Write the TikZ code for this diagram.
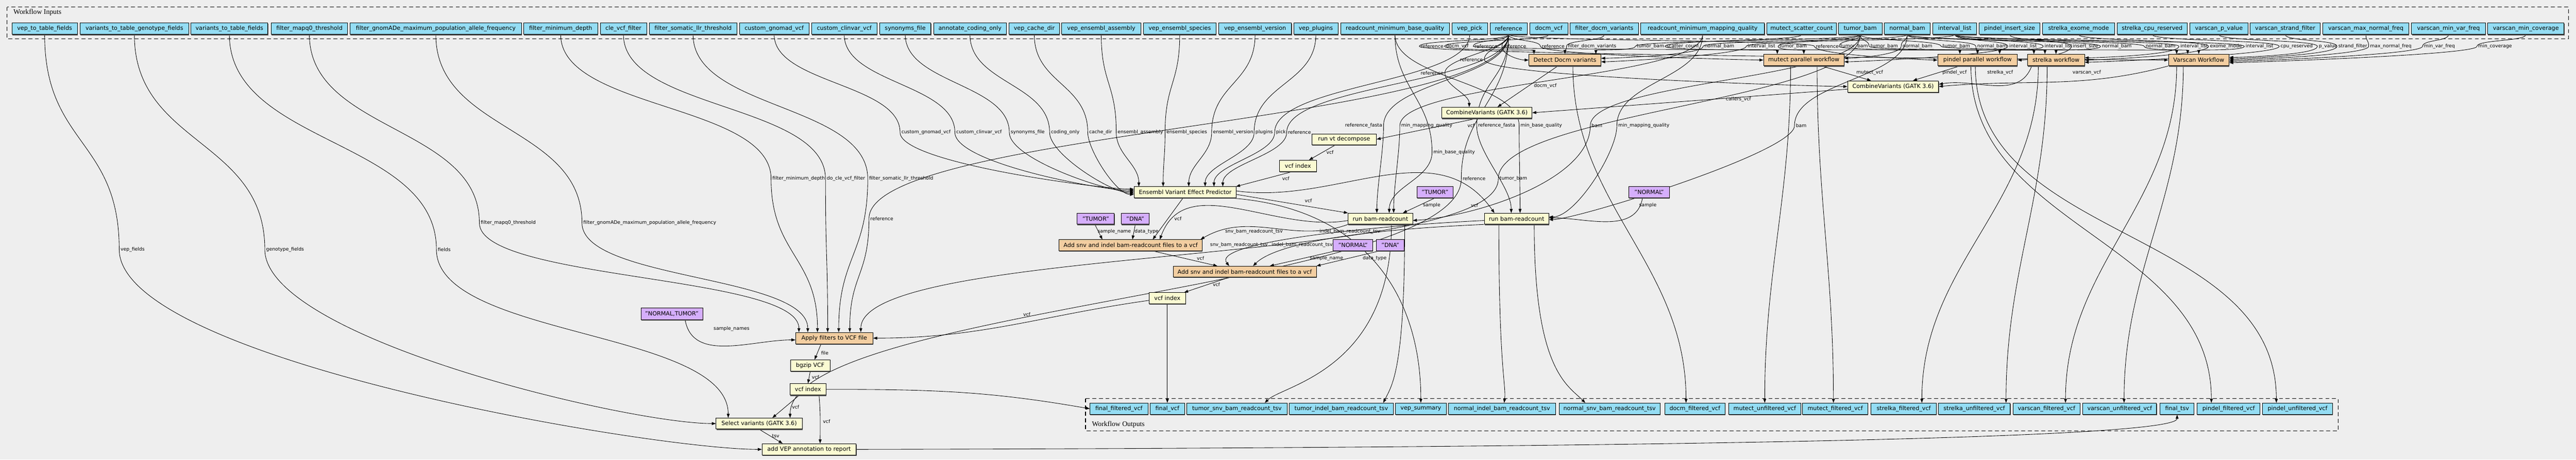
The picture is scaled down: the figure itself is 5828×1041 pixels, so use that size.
\documentclass[tikz,border=0pt]{standalone}
\usepackage{fontspec}
\setmainfont{DejaVu Sans}
\newfontfamily\wfserif{Liberation Serif}
\usetikzlibrary{arrows.meta,shadows}
\definecolor{bgc}{HTML}{EEEEEE}
\definecolor{inblue}{HTML}{94DDF4}
\definecolor{wforange}{HTML}{F3CEA1}
\definecolor{toolyellow}{HTML}{FAFAD2}
\definecolor{constpurple}{HTML}{D5AEFC}
\pgfdeclarelayer{bg}
\pgfdeclarelayer{edges}
\pgfsetlayers{bg,edges,main}
\newcommand\wbox[7]{\node[#1, minimum width={(#4)-(#3)}, minimum height={(#6)-(#5)}] (#2) at ({((#3)+(#4))/2},{1041-((#5)+(#6))/2}) {#7};}
\newcommand\elab[4]{\node[lab] (#1) at (#2,{1041-(#3)}) {#4};}
\newcommand\edgevia[6]{\draw[e] (#1) .. controls +(0,-#5) and +(0,#5) .. ([xshift=-3pt]#2.west) .. controls +(0,-#6) and +(#4:#6) .. (#3);}
\newcommand\edgeviaE[6]{\draw[e] (#1) .. controls +(0,-#5) and +(0,#5) .. ([xshift=3pt]#2.east) .. controls +(0,-#6) and +(#4:#6) .. (#3);}
\begin{document}
\begin{tikzpicture}[x=1pt,y=1pt,
 base/.style={rectangle, draw=black, line width=1pt, inner sep=0pt, font=\fontsize{13}{15}\selectfont, drop shadow={shadow xshift=0.8pt, shadow yshift=-2pt, fill=black!65, opacity=1}},
 io/.style={base, fill=inblue},
 wf/.style={base, fill=wforange},
 tool/.style={base, fill=toolyellow},
 cst/.style={base, fill=constpurple},
 lab/.style={font=\fontsize{10.8}{12}\selectfont, inner sep=0pt},
 e/.style={line width=1pt, -{Triangle[length=9pt,width=6.5pt]}},
 cluster/.style={draw=black, line width=1.5pt, dash pattern=on 9pt off 6pt}]
\begin{pgfonlayer}{bg}
\fill[bgc] (0,0) rectangle (5828,1041);
\draw[cluster] (16,1025) rectangle (5811,953);
\draw[cluster] (2456,138) rectangle (5290,65);
\end{pgfonlayer}
\useasboundingbox (0,0) rectangle (5828,1041);
\node[anchor=west, font=\wfserif\fontsize{16}{18}\selectfont] (tin) at (27,1013) {Workflow Inputs};
\node[anchor=west, font=\wfserif\fontsize{16}{18}\selectfont] (tout) at (2467,79) {Workflow Outputs};
% inputs
\wbox{io}{i_veptab}{27}{175}{52}{78}{vep\_to\_table\_fields}
\wbox{io}{i_vtgf}{181}{427}{52}{78}{variants\_to\_table\_genotype\_fields}
\wbox{io}{i_vtf}{432}{606}{52}{78}{variants\_to\_table\_fields}
\wbox{io}{i_mapq0}{614}{786}{52}{78}{filter\_mapq0\_threshold}
\wbox{io}{i_gnomade}{792}{1180}{52}{78}{filter\_gnomADe\_maximum\_population\_allele\_frequency}
\wbox{io}{i_mindepth}{1185}{1352}{52}{78}{filter\_minimum\_depth}
\wbox{io}{i_cle}{1358}{1463}{52}{78}{cle\_vcf\_filter}
\wbox{io}{i_llr}{1469}{1667}{52}{78}{filter\_somatic\_llr\_threshold}
\wbox{io}{i_cgnomad}{1673}{1830}{52}{78}{custom\_gnomad\_vcf}
\wbox{io}{i_cclinvar}{1836}{1984}{52}{78}{custom\_clinvar\_vcf}
\wbox{io}{i_syn}{1990}{2106}{52}{78}{synonyms\_file}
\wbox{io}{i_coding}{2112}{2277}{52}{78}{annotate\_coding\_only}
\wbox{io}{i_cache}{2283}{2397}{52}{78}{vep\_cache\_dir}
\wbox{io}{i_assembly}{2402}{2581}{52}{78}{vep\_ensembl\_assembly}
\wbox{io}{i_species}{2587}{2751}{52}{78}{vep\_ensembl\_species}
\wbox{io}{i_version}{2757}{2922}{52}{78}{vep\_ensembl\_version}
\wbox{io}{i_plugins}{2927}{3027}{52}{78}{vep\_plugins}
\wbox{io}{i_rbq}{3033}{3279}{52}{78}{readcount\_minimum\_base\_quality}
\wbox{io}{i_pick}{3285}{3365}{52}{78}{vep\_pick}
\wbox{io}{i_ref}{3371}{3455}{52}{78}{reference}
\wbox{io}{i_docm}{3461}{3547}{52}{78}{docm\_vcf}
\wbox{io}{i_fdocm}{3552}{3707}{52}{78}{filter\_docm\_variants}
\wbox{io}{i_rmq}{3712}{3992}{52}{78}{readcount\_minimum\_mapping\_quality}
\wbox{io}{i_mscatter}{3997}{4155}{52}{78}{mutect\_scatter\_count}
\wbox{io}{i_tumor}{4159}{4258}{52}{78}{tumor\_bam}
\wbox{io}{i_normal}{4263}{4367}{52}{78}{normal\_bam}
\wbox{io}{i_interval}{4373}{4472}{52}{78}{interval\_list}
\wbox{io}{i_pinsert}{4478}{4615}{52}{78}{pindel\_insert\_size}
\wbox{io}{i_sexome}{4621}{4784}{52}{78}{strelka\_exome\_mode}
\wbox{io}{i_scpu}{4790}{4948}{52}{78}{strelka\_cpu\_reserved}
\wbox{io}{i_vp}{4954}{5086}{52}{78}{varscan\_p\_value}
\wbox{io}{i_vsf}{5091}{5249}{52}{78}{varscan\_strand\_filter}
\wbox{io}{i_vmnf}{5255}{5450}{52}{78}{varscan\_max\_normal\_freq}
\wbox{io}{i_vmvf}{5456}{5623}{52}{78}{varscan\_min\_var\_freq}
\wbox{io}{i_vmc}{5628}{5801}{52}{78}{varscan\_min\_coverage}
% outputs
\wbox{io}{o_ff}{2466}{2597}{913}{939}{final\_filtered\_vcf}
\wbox{io}{o_fvcf}{2602}{2680}{913}{939}{final\_vcf}
\wbox{io}{o_tsnv}{2685}{2912}{913}{939}{tumor\_snv\_bam\_readcount\_tsv}
\wbox{io}{o_tindel}{2917}{3152}{913}{939}{tumor\_indel\_bam\_readcount\_tsv}
\wbox{io}{o_vepsum}{3157}{3272}{913}{939}{vep\_summary}
\wbox{io}{o_nindel}{3277}{3519}{913}{939}{normal\_indel\_bam\_readcount\_tsv}
\wbox{io}{o_nsnv}{3527}{3756}{913}{939}{normal\_snv\_bam\_readcount\_tsv}
\wbox{io}{o_docm}{3766}{3903}{913}{939}{docm\_filtered\_vcf}
\wbox{io}{o_munf}{3911}{4074}{913}{939}{mutect\_unfiltered\_vcf}
\wbox{io}{o_mfilt}{4078}{4226}{913}{939}{mutect\_filtered\_vcf}
\wbox{io}{o_sfilt}{4233}{4381}{913}{939}{strelka\_filtered\_vcf}
\wbox{io}{o_sunf}{4385}{4548}{913}{939}{strelka\_unfiltered\_vcf}
\wbox{io}{o_vfilt}{4554}{4706}{913}{939}{varscan\_filtered\_vcf}
\wbox{io}{o_vunf}{4712}{4879}{913}{939}{varscan\_unfiltered\_vcf}
\wbox{io}{o_ftsv}{4887}{4964}{913}{939}{final\_tsv}
\wbox{io}{o_pfilt}{4971}{5113}{913}{939}{pindel\_filtered\_vcf}
\wbox{io}{o_punf}{5119}{5277}{913}{939}{pindel\_unfiltered\_vcf}
% steps
\wbox{wf}{s_docm}{3459}{3622}{123}{149}{Detect Docm variants}
\wbox{wf}{s_mutect}{3990}{4172}{123}{149}{mutect parallel workflow}
\wbox{wf}{s_pindel}{4384}{4564}{123}{149}{pindel parallel workflow}
\wbox{wf}{s_strelka}{4587}{4716}{123}{149}{strelka workflow}
\wbox{wf}{s_varscan}{4906}{5043}{123}{149}{Varscan Workflow}
\wbox{tool}{s_combR}{4180}{4386}{183}{209}{CombineVariants (GATK 3.6)}
\wbox{tool}{s_combL}{3262}{3466}{243}{268}{CombineVariants (GATK 3.6)}
\wbox{tool}{s_vt}{2968}{3114}{303}{328}{run vt decompose}
\wbox{tool}{s_vi1}{2895}{2978}{363}{389}{vcf index}
\wbox{tool}{s_vep}{2566}{2797}{423}{448}{Ensembl Variant Effect Predictor}
\wbox{cst}{c_t1}{3206}{3287}{423}{448}{"TUMOR"}
\wbox{cst}{c_n1}{3685}{3777}{423}{448}{"NORMAL"}
\wbox{tool}{s_brcL}{3050}{3196}{483}{508}{run bam-readcount}
\wbox{tool}{s_brcR}{3358}{3504}{483}{508}{run bam-readcount}
\wbox{cst}{c_t2}{2437}{2521}{483}{508}{"TUMOR"}
\wbox{cst}{c_d1}{2537}{2600}{483}{508}{"DNA"}
\wbox{wf}{s_add1}{2396}{2720}{543}{568}{Add snv and indel bam-readcount files to a vcf}
\wbox{cst}{c_n2}{3016}{3106}{543}{568}{"NORMAL"}
\wbox{cst}{c_d2}{3114}{3177}{543}{568}{"DNA"}
\wbox{wf}{s_add2}{2654}{2978}{603}{628}{Add snv and indel bam-readcount files to a vcf}
\wbox{tool}{s_vi2}{2600}{2682}{663}{688}{vcf index}
\wbox{cst}{c_nt}{1450}{1590}{698}{724}{"NORMAL,TUMOR"}
\wbox{wf}{s_filter}{1800}{1975}{753}{779}{Apply filters to VCF file}
\wbox{tool}{s_bgzip}{1788}{1878}{815}{841}{bgzip VCF}
\wbox{tool}{s_vi3}{1787}{1869}{869}{895}{vcf index}
\wbox{tool}{s_select}{1620}{1815}{947}{972}{Select variants (GATK 3.6)}
\wbox{tool}{s_addvep}{1724}{1937}{1005}{1031}{add VEP annotation to report}
% labels row
\elab{la1}{3240}{105}{reference}
\elab{la2}{3297}{105}{docm\_vcf}
\elab{la3}{3362}{105}{reference}
\elab{la4}{3427}{105}{reference}
\elab{la5}{3514}{105}{reference}
\elab{la6}{3602}{105}{filter\_docm\_variants}
\elab{la7}{3734}{105}{tumor\_bam}
\elab{la8}{3807}{105}{scatter\_count}
\elab{la9}{3890}{105}{normal\_bam}
\elab{la10}{3985}{105}{interval\_list}
\elab{la11}{4057}{105}{tumor\_bam}
\elab{la12}{4134}{105}{reference}
\elab{la13}{4195}{105}{tumor\_bam}
\elab{la14}{4263}{105}{tumor\_bam}
\elab{la15}{4338}{105}{normal\_bam}
\elab{la16}{4426}{105}{tumor\_bam}
\elab{la17}{4507}{105}{normal\_bam}
\elab{la18}{4577}{105}{interval\_list}
\elab{la19}{4657}{105}{interval\_list}
\elab{la20}{4718}{105}{insert\_size}
\elab{la21}{4789}{105}{normal\_bam}
\elab{la22}{4888}{105}{normal\_bam}
\elab{la23}{4964}{105}{interval\_list}
\elab{la24}{5036}{105}{exome\_mode}
\elab{la25}{5112}{105}{interval\_list}
\elab{la26}{5196}{105}{cpu\_reserved}
\elab{la27}{5267}{105}{p\_value}
\elab{la28}{5323}{105}{strand\_filter}
\elab{la29}{5409}{105}{max\_normal\_freq}
\elab{la30}{5519}{105}{min\_var\_freq}
\elab{la31}{5645}{105}{min\_coverage}
% other labels
\elab{lb1}{3329}{135}{reference}
\elab{lb2}{3240}{165}{reference}
\elab{lb3}{3496}{195}{docm\_vcf}
\elab{lb4}{4230}{165}{mutect\_vcf}
\elab{lb5}{4422}{165}{pindel\_vcf}
\elab{lb6}{4525}{165}{strelka\_vcf}
\elab{lb7}{4721}{165}{varscan\_vcf}
\elab{lb8}{3933}{225}{callers\_vcf}
\elab{lb9}{3328}{285}{vcf}
\elab{lb10}{3009}{345}{vcf}
\elab{lb11}{2909}{405}{vcf}
\elab{lv1}{2095}{300}{custom\_gnomad\_vcf}
\elab{lv2}{2215}{300}{custom\_clinvar\_vcf}
\elab{lv3}{2325}{300}{synonyms\_file}
\elab{lv4}{2410}{300}{coding\_only}
\elab{lv5}{2490}{300}{cache\_dir}
\elab{lv6}{2580}{300}{ensembl\_assembly}
\elab{lv7}{2685}{300}{ensembl\_species}
\elab{lv8}{2790}{300}{ensembl\_version}
\elab{lv9}{2860}{300}{plugins}
\elab{lv10}{2898}{300}{pick}
\elab{lv11}{2940}{300}{reference}
\elab{lr1}{3290}{345}{min\_base\_quality}
\elab{lr2}{3085}{285}{reference\_fasta}
\elab{lr3}{3228}{285}{min\_mapping\_quality}
\elab{lr4}{3386}{285}{reference\_fasta}
\elab{lr5}{3487}{285}{min\_base\_quality}
\elab{lr6}{3719}{285}{min\_mapping\_quality}
\elab{lr7}{3613}{285}{bam}
\elab{lr8}{4075}{285}{bam}
\elab{lc1}{3239}{465}{sample}
\elab{lc2}{2960}{455}{vcf}
\elab{lc3}{3336}{465}{vcf}
\elab{lc4}{3728}{465}{sample}
\elab{lc5}{2665}{495}{vcf}
\elab{lc6}{2521}{525}{sample\_name}
\elab{lc7}{2594}{525}{data\_type}
\elab{lc8}{2837}{525}{snv\_bam\_readcount\_tsv}
\elab{lc9}{3054}{525}{indel\_bam\_readcount\_tsv}
\elab{lc10}{2803}{555}{snv\_bam\_readcount\_tsv}
\elab{lc11}{2946}{555}{indel\_bam\_readcount\_tsv}
\elab{lc12}{2716}{585}{vcf}
\elab{lc13}{3001}{585}{sample\_name}
\elab{lc14}{3110}{585}{data\_type}
\elab{lc15}{2752}{645}{vcf}
\elab{lf1}{1150}{505}{filter\_mapq0\_threshold}
\elab{lf2}{1470}{505}{filter\_gnomADe\_maximum\_population\_allele\_frequency}
\elab{lf3}{1807}{405}{filter\_minimum\_depth}
\elab{lf4}{1914}{405}{do\_cle\_vcf\_filter}
\elab{lf5}{2039}{405}{filter\_somatic\_llr\_threshold}
\elab{lf6}{1995}{495}{reference}
\elab{lf7}{3424}{405}{tumor\_bam}
\elab{lf8}{2323}{712}{vcf}
\elab{lf9}{1655}{745}{sample\_names}
\elab{lg1}{645}{565}{genotype\_fields}
\elab{lg2}{1005}{565}{fields}
\elab{lg3}{300}{565}{vep\_fields}
\elab{lg4}{3335}{405}{reference}
\elab{lh1}{1866}{800}{file}
\elab{lh2}{1845}{855}{vcf}
\elab{lh3}{1800}{922}{vcf}
\elab{lh4}{1870}{955}{vcf}
\elab{lh5}{1755}{988}{tsv}
\begin{pgfonlayer}{edges}
% docm
\edgevia{i_ref.south}{la4}{s_docm.west}{180}{15}{20}
\edgevia{i_docm.south}{la2}{[xshift=-70pt]s_docm.north}{90}{15}{10}
\edgevia{i_fdocm.south}{la6}{s_docm.north}{90}{15}{10}
\edgevia{i_tumor.south}{la7}{[xshift=70pt]s_docm.north}{90}{15}{10}
\edgevia{i_normal.south}{la9}{[yshift=4pt]s_docm.east}{0}{15}{20}
\edgevia{i_interval.south}{la10}{[yshift=-4pt]s_docm.east}{0}{15}{20}
% mutect
\edgevia{i_ref.south}{la5}{s_mutect.west}{180}{15}{20}
\edgevia{i_mscatter.south}{la8}{[xshift=-60pt]s_mutect.north}{90}{15}{10}
\edgevia{i_tumor.south}{la11}{s_mutect.north}{90}{15}{10}
\edgevia{i_normal.south}{la15}{[yshift=4pt]s_mutect.east}{0}{15}{20}
\edgevia{i_interval.south}{la18}{[yshift=-4pt]s_mutect.east}{0}{15}{20}
% pindel
\edgevia{i_ref.south}{la12}{s_pindel.west}{180}{15}{20}
\edgevia{i_tumor.south}{la13}{[xshift=-40pt]s_pindel.north}{90}{15}{10}
\edgevia{i_normal.south}{la17}{s_pindel.north}{90}{15}{10}
\edgevia{i_interval.south}{la19}{[xshift=50pt]s_pindel.north}{90}{15}{10}
\edgevia{i_pinsert.south}{la20}{s_pindel.east}{0}{15}{20}
% strelka
\edgevia{i_ref.south}{la3}{[xshift=-50pt]s_strelka.north}{90}{15}{10}
\edgevia{i_tumor.south}{la14}{[xshift=-25pt]s_strelka.north}{90}{15}{10}
\edgevia{i_normal.south}{la21}{s_strelka.north}{90}{15}{10}
\edgevia{i_interval.south}{la23}{[yshift=5pt]s_strelka.east}{0}{15}{20}
\edgevia{i_sexome.south}{la24}{s_strelka.east}{0}{15}{20}
\edgevia{i_scpu.south}{la26}{[yshift=-5pt]s_strelka.east}{0}{15}{20}
% varscan
\edgevia{i_ref.south}{la1}{s_varscan.west}{180}{15}{20}
\edgevia{i_tumor.south}{la16}{[xshift=-50pt]s_varscan.north}{90}{15}{10}
\edgevia{i_normal.south}{la22}{[xshift=-25pt]s_varscan.north}{90}{15}{10}
\edgevia{i_interval.south}{la25}{s_varscan.north}{90}{15}{10}
\edgevia{i_vp.south}{la27}{[yshift=6pt]s_varscan.east}{0}{15}{20}
\edgevia{i_vsf.south}{la28}{[yshift=3pt]s_varscan.east}{0}{15}{20}
\edgevia{i_vmnf.south}{la29}{s_varscan.east}{0}{15}{20}
\edgevia{i_vmvf.south}{la30}{[yshift=-3pt]s_varscan.east}{0}{15}{20}
\edgevia{i_vmc.south}{la31}{[yshift=-6pt]s_varscan.east}{0}{15}{20}
% combine
\edgeviaE{i_ref.south}{lb1}{s_combR.west}{180}{25}{40}
\edgeviaE{i_ref.south}{lb2}{[xshift=-40pt]s_combL.north}{90}{35}{30}
\draw[e] ([xshift=-16pt]s_docm.south) -- ([xshift=24pt]s_combL.north);
\draw[e] ([xshift=40pt]s_mutect.south) -- ([xshift=-50pt]s_combR.north);
\draw[e] ([xshift=-40pt]s_pindel.south) -- ([xshift=45pt]s_combR.north);
\draw[e] ([xshift=-55pt]s_strelka.south) to[out=-110,in=10] ([yshift=5pt]s_combR.east);
\draw[e] (s_varscan.south west) to[out=-165,in=5] (s_combR.east);
\draw[e] ([yshift=-6pt]s_combR.west) -- (s_combL.east);
\draw[e] ([xshift=-24pt]s_combL.south) -- (s_vt.east);
\draw[e] ([xshift=-20pt]s_vt.south) -- ([xshift=25pt]s_vi1.north);
\draw[e] ([xshift=-15pt]s_vi1.south) -- ([xshift=115pt]s_vep.north);
% vep inputs
\edgevia{i_cgnomad.south}{lv1}{[yshift=7pt]s_vep.west}{180}{110}{70}
\edgevia{i_cclinvar.south}{lv2}{[yshift=4pt]s_vep.west}{180}{110}{70}
\edgevia{i_syn.south}{lv3}{[yshift=1pt]s_vep.west}{180}{110}{60}
\edgevia{i_coding.south}{lv4}{[yshift=-2pt]s_vep.west}{180}{110}{50}
\edgevia{i_cache.south}{lv5}{[yshift=-5pt]s_vep.west}{180}{110}{40}
\edgevia{i_assembly.south}{lv6}{[xshift=-105pt]s_vep.north}{90}{110}{50}
\edgevia{i_species.south}{lv7}{[xshift=-50pt]s_vep.north}{90}{110}{50}
\edgevia{i_version.south}{lv8}{[xshift=8pt]s_vep.north}{90}{110}{50}
\edgevia{i_plugins.south}{lv9}{[xshift=45pt]s_vep.north}{90}{110}{50}
\edgevia{i_pick.south}{lv10}{[xshift=65pt]s_vep.north}{90}{110}{50}
\edgevia{i_ref.south}{lv11}{[xshift=85pt]s_vep.north}{90}{110}{50}
% bam-readcount
\edgevia{i_rbq.south}{lr1}{[xshift=20pt]s_brcL.north}{90}{120}{60}
\edgeviaE{i_ref.south}{lr2}{[xshift=-8pt]s_brcL.north}{90}{100}{60}
\edgevia{i_rmq.south}{lr3}{[xshift=30pt]s_brcL.north}{90}{100}{60}
\edgevia{i_ref.south}{lr4}{[xshift=-12pt]s_brcR.north}{90}{100}{60}
\edgevia{i_rbq.south}{lr5}{[xshift=8pt]s_brcR.north}{90}{100}{60}
\edgevia{i_rmq.south}{lr6}{[yshift=4pt]s_brcR.east}{0}{100}{60}
\draw[e] (i_tumor.south) .. controls +(0,-100) and +(0,100) .. ([xshift=-3pt]lr7.west) .. controls +(0,-120) and +(150,10) .. ([yshift=-4pt]s_brcL.east);
\edgevia{i_normal.south}{lr8}{[yshift=-2pt]s_brcR.east}{0}{100}{60}
\draw[e] ([yshift=-5pt]s_vep.east) -- (s_brcL.north west);
\draw[e] ([yshift=3pt]s_vep.east) to[out=-8,in=125] ([xshift=-50pt]s_brcR.north);
\draw[e] (c_t1.south) -- ([xshift=51pt]s_brcL.north);
\draw[e] ([xshift=-15pt]c_n1.south) to[out=-100,in=0] ([yshift=2pt]s_brcR.east);
% add readcounts
\draw[e] ([xshift=-5pt]s_vep.south) -- ([xshift=50pt]s_add1.north);
\draw[e] ([xshift=-2pt]c_t2.south) -- ([xshift=-64pt]s_add1.north);
\draw[e] (c_d1.south) -- ([xshift=4pt]s_add1.north);
\draw[e] ([yshift=-4pt]s_brcL.west) to[out=190,in=70] ([xshift=66pt]s_add1.north);
\draw[e] (s_brcL.south west) to[out=-160,in=30] ([xshift=158pt]s_add1.north);
\draw[e] ([yshift=-4pt]s_brcR.west) .. controls +(-300,-15) and +(-40,50) .. ([xshift=-35pt]s_add2.north);
\draw[e] (s_brcR.south west) .. controls +(-350,-15) and +(40,40) .. ([xshift=19pt]s_add2.north);
\draw[e] ([xshift=50pt]s_add1.south) -- ([xshift=-62pt]s_add2.north);
\draw[e] ([xshift=-40pt]c_n2.south) -- ([xshift=57pt]s_add2.north);
\draw[e] ([xshift=-25pt]c_d2.south) -- (s_add2.north east);
\draw[e] ([xshift=-36pt]s_add2.south) -- ([xshift=38pt]s_vi2.north);
\draw[e] (s_vi2.south) -- (o_fvcf.north);
% filters
\draw[e] ([yshift=-5pt]s_vi2.west) to[out=188,in=0] (s_filter.east);
\edgevia{i_mapq0.south}{lf1}{[xshift=-80pt]s_filter.north}{90}{220}{130}
\edgevia{i_gnomade.south}{lf2}{[xshift=-60pt]s_filter.north}{90}{220}{130}
\edgevia{i_mindepth.south}{lf3}{[xshift=-38pt]s_filter.north}{90}{170}{170}
\edgevia{i_cle.south}{lf4}{[xshift=-15pt]s_filter.north}{90}{170}{170}
\edgevia{i_llr.south}{lf5}{[xshift=10pt]s_filter.north}{90}{170}{170}
\edgevia{i_ref.south}{lf6}{[xshift=35pt]s_filter.north}{90}{200}{130}
\edgevia{i_tumor.south}{lf7}{[xshift=60pt]s_filter.north}{90}{150}{200}
\draw[e] ([xshift=30pt]c_nt.south) to[out=-80,in=180] ([yshift=-4pt]s_filter.west);
% left chain
\edgevia{i_vtgf.south}{lg1}{s_select.west}{180}{250}{200}
\edgevia{i_vtf.south}{lg2}{[xshift=-70pt]s_select.north}{90}{250}{200}
\edgevia{i_veptab.south}{lg3}{s_addvep.west}{180}{250}{250}
\edgevia{i_ref.south}{lg4}{[xshift=70pt]s_select.north}{90}{150}{250}
\draw[e] ([xshift=-30pt]s_filter.south) -- ([xshift=10pt]s_bgzip.north);
\draw[e] (s_bgzip.south) -- (s_vi3.north);
\draw[e] ([xshift=-20pt]s_vi3.south) -- ([xshift=30pt]s_select.north);
\draw[e] ([xshift=25pt]s_vi3.south) to[out=-85,in=90] ([xshift=25pt]s_addvep.north);
\draw[e] (s_select.south) -- ([xshift=-60pt]s_addvep.north);
\draw[e] (s_vi3.east) to[out=0,in=170] (o_ff.west);
\draw[e] (s_addvep.east) .. controls +(1500,3) and +(0,-60) .. (o_ftsv.south);
% outputs
\draw[e] ([xshift=100pt]s_vep.south) .. controls +(300,-20) and +(0,250) .. (o_vepsum.north);
\draw[e] ([xshift=25pt]s_brcL.south) .. controls +(0,-330) and +(40,40) .. ([xshift=63pt]o_tsnv.north);
\draw[e] ([xshift=55pt]s_brcL.south) .. controls +(0,-330) and +(20,40) .. ([xshift=95pt]o_tindel.north);
\draw[e] ([xshift=-40pt]s_brcR.south) .. controls +(0,-330) and +(5,40) .. ([xshift=5pt]o_nindel.north);
\draw[e] ([xshift=40pt]s_brcR.south) .. controls +(0,-330) and +(-40,40) .. ([xshift=-55pt]o_nsnv.north);
\draw[e] ([xshift=18pt]s_docm.south) to[out=-90,in=90] ([xshift=-20pt]o_docm.north);
\draw[e] ([xshift=-30pt]s_mutect.south) to[out=-90,in=90] (o_munf.north);
\draw[e] ([xshift=30pt]s_mutect.south) to[out=-90,in=90] ([xshift=-4pt]o_mfilt.north);
\draw[e] ([xshift=-15pt]s_pindel.south) to[out=-90,in=90] ([xshift=-39pt]o_pfilt.north);
\draw[e] ([xshift=-5pt]s_pindel.south) to[out=-90,in=90] ([xshift=-48pt]o_punf.north);
\draw[e] ([xshift=-40pt]s_strelka.south) to[out=-90,in=90] ([xshift=41pt]o_sfilt.north);
\draw[e] ([xshift=-20pt]s_strelka.south) to[out=-90,in=90] ([xshift=72pt]o_sunf.north);
\draw[e] ([xshift=-50pt]s_varscan.south) to[out=-90,in=90] ([xshift=43pt]o_vfilt.north);
\draw[e] ([xshift=-35pt]s_varscan.south) to[out=-90,in=90] ([xshift=10pt]o_vunf.north);
\end{pgfonlayer}
\end{tikzpicture}
\end{document}
